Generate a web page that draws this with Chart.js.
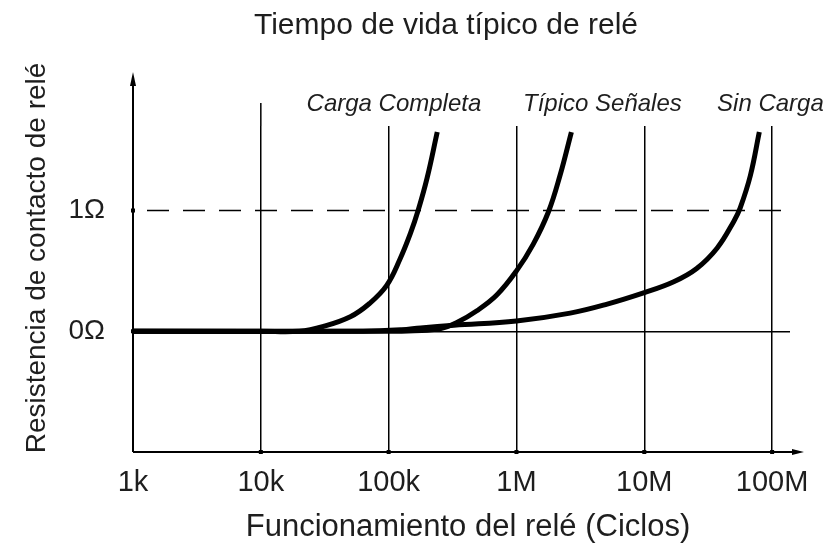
<!DOCTYPE html>
<html>
<head>
<meta charset="utf-8">
<script src="https://cdn.jsdelivr.net/npm/chart.js@4.4.0/dist/chart.umd.min.js"></script>
<style>
html,body{margin:0;padding:0;background:#fff}
</style>
</head>
<body>
<canvas id="myChart" width="828" height="552"></canvas>
<script>
// axis ticks
const xTicks = [1e3, 1e4, 1e5, 1e6, 1e7, 1e8]
const xTickLabels = ['1k', '10k', '100k', '1M', '10M', '100M']
const yTicks = [0, 1]
const yTickLabels = ['0Ω', '1Ω']

// curves (cycles, ohms)
const cargaX = [1000, 10000, 20000, 30900, 50100, 70800, 96600, 123000, 148000, 170000, 200000, 240000]
const cargaY = [0, 0, 0, 0.04, 0.12, 0.23, 0.38, 0.60, 0.81, 1.0, 1.27, 1.65]

const tipicoX = [1000, 100000, 158000, 251000, 339000, 490000, 701000, 1000000, 1350000, 1780000, 2190000, 2690000]
const tipicoY = [0, 0, 0.005, 0.02, 0.07, 0.17, 0.30, 0.50, 0.72, 0.99, 1.29, 1.65]

const sinX = [1000, 63000, 126000, 178000, 324000, 1000000, 2630000, 5130000, 10000000, 17000000, 25700000, 37200000, 50100000, 56200000, 67600000, 79400000]
const sinY = [0, 0, 0.012, 0.028, 0.05, 0.085, 0.15, 0.225, 0.32, 0.41, 0.52, 0.69, 0.91, 1.02, 1.29, 1.65]

const seriesNames = ['Carga Completa', 'Típico Señales', 'Sin Carga']
const labelAt = [110000, 4700000, 97000000]

const xMax = 1.38e8
const refLevel = 1

function toPoints(xs, ys){
  return xs.map((x, i) => ({x: x, y: ys[i]}))
}

const font = '"Liberation Sans", Arial, sans-serif'
const textColor = '#1e1e1e'

// titles, curve names, axis arrows
const decor = {
  id: 'decor',
  afterDraw(chart){
    const ctx = chart.ctx
    const xs = chart.scales.x
    const ys = chart.scales.y
    const {left, right, bottom, top} = chart.chartArea
    ctx.save()
    ctx.strokeStyle = '#000'
    ctx.fillStyle = '#000'
    // taller 10k line
    ctx.lineWidth = 1.5
    ctx.beginPath()
    ctx.moveTo(xs.getPixelForValue(1e4), top)
    ctx.lineTo(xs.getPixelForValue(1e4), top - 23)
    ctx.stroke()
    // axes
    ctx.lineWidth = 2
    ctx.beginPath()
    ctx.moveTo(left, bottom)
    ctx.lineTo(left, 78)
    ctx.moveTo(left, bottom)
    ctx.lineTo(right + 8, bottom)
    ctx.stroke()
    ctx.beginPath()
    ctx.moveTo(left, 72)
    ctx.lineTo(left - 3, 86)
    ctx.lineTo(left + 3, 86)
    ctx.closePath()
    ctx.fill()
    ctx.beginPath()
    ctx.moveTo(right + 14, bottom)
    ctx.lineTo(right + 2, bottom - 3)
    ctx.lineTo(right + 2, bottom + 3)
    ctx.closePath()
    ctx.fill()
    // tick dots
    xTicks.slice(1).forEach(v => {
      ctx.fillRect(xs.getPixelForValue(v) - 2, bottom - 2, 4, 4)
    })
    yTicks.forEach(v => {
      ctx.fillRect(left - 2, ys.getPixelForValue(v) - 2, 4, 4)
    })
    ctx.fillStyle = textColor
    ctx.textAlign = 'center'
    ctx.textBaseline = 'middle'
    // chart title
    ctx.font = '30px ' + font
    ctx.fillText('Tiempo de vida típico de relé', 446, 26)
    // x title
    ctx.font = '31px ' + font
    ctx.fillText('Funcionamiento del relé (Ciclos)', 468, 527)
    // curve names
    ctx.font = 'italic 24px ' + font
    seriesNames.forEach((n, i) => {
      ctx.fillText(n, xs.getPixelForValue(labelAt[i]), ys.getPixelForValue(1.88))
    })
    // y title
    ctx.translate(37, 258)
    ctx.rotate(-Math.PI / 2)
    ctx.font = '28px ' + font
    ctx.fillText('Resistencia de contacto de relé', 0, 0)
    ctx.restore()
  }
}

const curveStyle = {
  borderColor: '#000',
  borderWidth: 5,
  pointRadius: 0,
  fill: false,
  tension: 0.4
}

const data = {
  datasets: [
    Object.assign({label: seriesNames[0], data: toPoints(cargaX, cargaY)}, curveStyle),
    Object.assign({label: seriesNames[1], data: toPoints(tipicoX, tipicoY)}, curveStyle),
    Object.assign({label: seriesNames[2], data: toPoints(sinX, sinY)}, curveStyle),
    {
      label: '1Ω',
      data: [{x: 1000, y: refLevel}, {x: xMax, y: refLevel}],
      borderColor: '#000',
      borderWidth: 1.5,
      borderDash: [22, 14],
      borderDashOffset: 22,
      pointRadius: 0,
      fill: false
    }
  ]
}

const config = {
  type: 'line',
  data: data,
  plugins: [decor],
  options: {
    responsive: false,
    animation: false,
    layout: {padding: {left: 0, right: 38, top: 126, bottom: 0}},
    plugins: {
      legend: {display: false},
      tooltip: {enabled: false},
      title: {display: false}
    },
    scales: {
      x: {
        type: 'logarithmic',
        min: 1000,
        max: xMax,
        afterBuildTicks: (scale) => { scale.ticks = xTicks.map(v => ({value: v})) },
        afterFit: (scale) => { scale.height = 100 },
        grid: {
          color: (c) => (c.tick && c.tick.value === 1000) ? 'rgba(0,0,0,0)' : '#000',
          lineWidth: 1.5,
          drawTicks: false
        },
        border: {display: false},
        ticks: {
          color: textColor,
          font: {family: font, size: 29},
          padding: 14,
          maxRotation: 0,
          autoSkip: false,
          callback: (v, i) => xTickLabels[i]
        }
      },
      y: {
        type: 'linear',
        min: -1,
        max: 1.7,
        afterBuildTicks: (scale) => { scale.ticks = yTicks.map(v => ({value: v})) },
        afterFit: (scale) => { scale.width = 133 },
        grid: {
          color: (c) => (c.tick && c.tick.value === 0) ? '#000' : 'rgba(0,0,0,0)',
          lineWidth: 1.5,
          drawTicks: false
        },
        border: {display: false},
        ticks: {
          color: textColor,
          font: {family: font, size: 28},
          padding: 28,
          callback: (v) => yTickLabels[yTicks.indexOf(v)]
        }
      }
    }
  }
}

const myChart = new Chart(document.getElementById('myChart'), config)
</script>
</body>
</html>
